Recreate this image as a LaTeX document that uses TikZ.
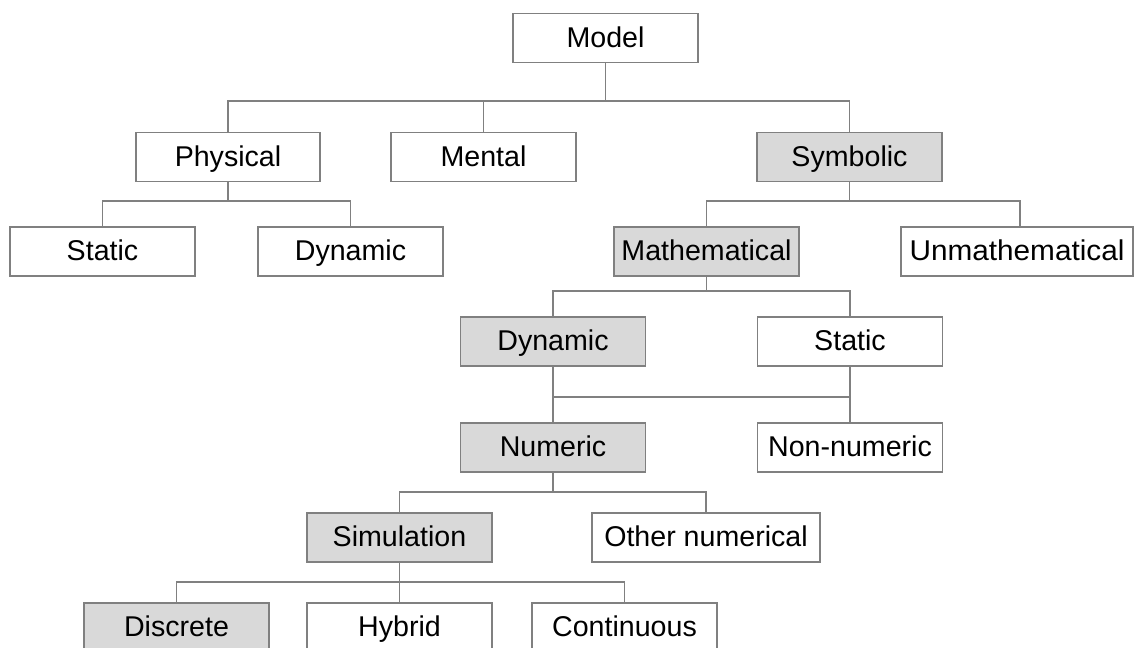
\documentclass[tikz,border=0pt]{standalone}
\usepackage{fontspec}
\setmainfont{Liberation Sans}
\definecolor{linegray}{RGB}{128,128,128}
\definecolor{boxfill}{RGB}{217,217,217}
\tikzset{
  tbox/.style={draw=linegray, line width=0.75pt, fill=white, minimum width=92.5pt,
    minimum height=24.5pt, inner sep=0pt, text height=11pt, text depth=2pt,
    font=\fontsize{14.3pt}{17pt}\selectfont, text=black},
  gbox/.style={tbox, fill=boxfill},
  conn/.style={draw=linegray, line width=0.75pt}
}
\begin{document}
\begin{tikzpicture}[x=0.5pt,y=-0.5pt]
\useasboundingbox (0,0) rectangle (1136,648);
\clip (0,0) rectangle (1136,648);
\fill[white] (0,0) rectangle (1136,648);
% nodes
\node[tbox] (model) at (605.5,38) {Model};
\node[tbox, minimum width=92pt] (physical) at (228,157) {Physical};
\node[tbox] (mental) at (483.5,157) {Mental};
\node[gbox] (symbolic) at (849.5,157) {Symbolic};
\node[tbox] (static1) at (102.5,251.5) {Static};
\node[tbox] (dynamic1) at (350.5,251.5) {Dynamic};
\node[gbox] (math) at (706.5,251.5) {Mathematical};
\node[tbox, minimum width=116pt] (unmath) at (1017,251.5) {\scalebox{1.04}[1]{Unmathematical}};
\node[gbox] (dynamic2) at (553,341.5) {Dynamic};
\node[tbox] (static2) at (850,341.5) {Static};
\node[gbox] (numeric) at (553,447.5) {Numeric};
\node[tbox] (nonnum) at (850,447.5) {Non-numeric};
\node[gbox] (simulation) at (399.5,537.5) {Simulation};
\node[tbox, minimum width=114pt] (other) at (706,537.5) {Other numerical};
\node[gbox] (discrete) at (176.5,627.5) {Discrete};
\node[tbox] (hybrid) at (399.5,627.5) {Hybrid};
\node[tbox] (continuous) at (624.5,627.5) {Continuous};
% bus coordinates
\coordinate (b0) at (0,101);
\coordinate (b1) at (0,201);
\coordinate (b2) at (0,291);
\coordinate (b3) at (0,397);
\coordinate (b4) at (0,492);
\coordinate (b5) at (0,582);
% connectors
\draw[conn] (model.south) -- (model.south |- b0);
\draw[conn] (physical.north) -- (physical.north |- b0) -- (symbolic.north |- b0) -- (symbolic.north);
\draw[conn] (mental.north) -- (mental.north |- b0);
\draw[conn] (physical.south) -- (physical.south |- b1);
\draw[conn] (static1.north) -- (static1.north |- b1) -- (dynamic1.north |- b1) -- (dynamic1.north);
\draw[conn] (symbolic.south) -- (symbolic.south |- b1);
\draw[conn] (math.north) -- (math.north |- b1) -- (1020,201) -- (1020,227);
\draw[conn] (math.south) -- (math.south |- b2);
\draw[conn] (dynamic2.north) -- (dynamic2.north |- b2) -- (static2.north |- b2) -- (static2.north);
\draw[conn] (dynamic2.south) -- (numeric.north);
\draw[conn] (static2.south) -- (nonnum.north);
\draw[conn] (dynamic2.south |- b3) -- (static2.south |- b3);
\draw[conn] (numeric.south) -- (numeric.south |- b4);
\draw[conn] (simulation.north) -- (simulation.north |- b4) -- (other.north |- b4) -- (other.north);
\draw[conn] (simulation.south) -- (hybrid.north);
\draw[conn] (discrete.north) -- (discrete.north |- b5) -- (continuous.north |- b5) -- (continuous.north);
\end{tikzpicture}
\end{document}
